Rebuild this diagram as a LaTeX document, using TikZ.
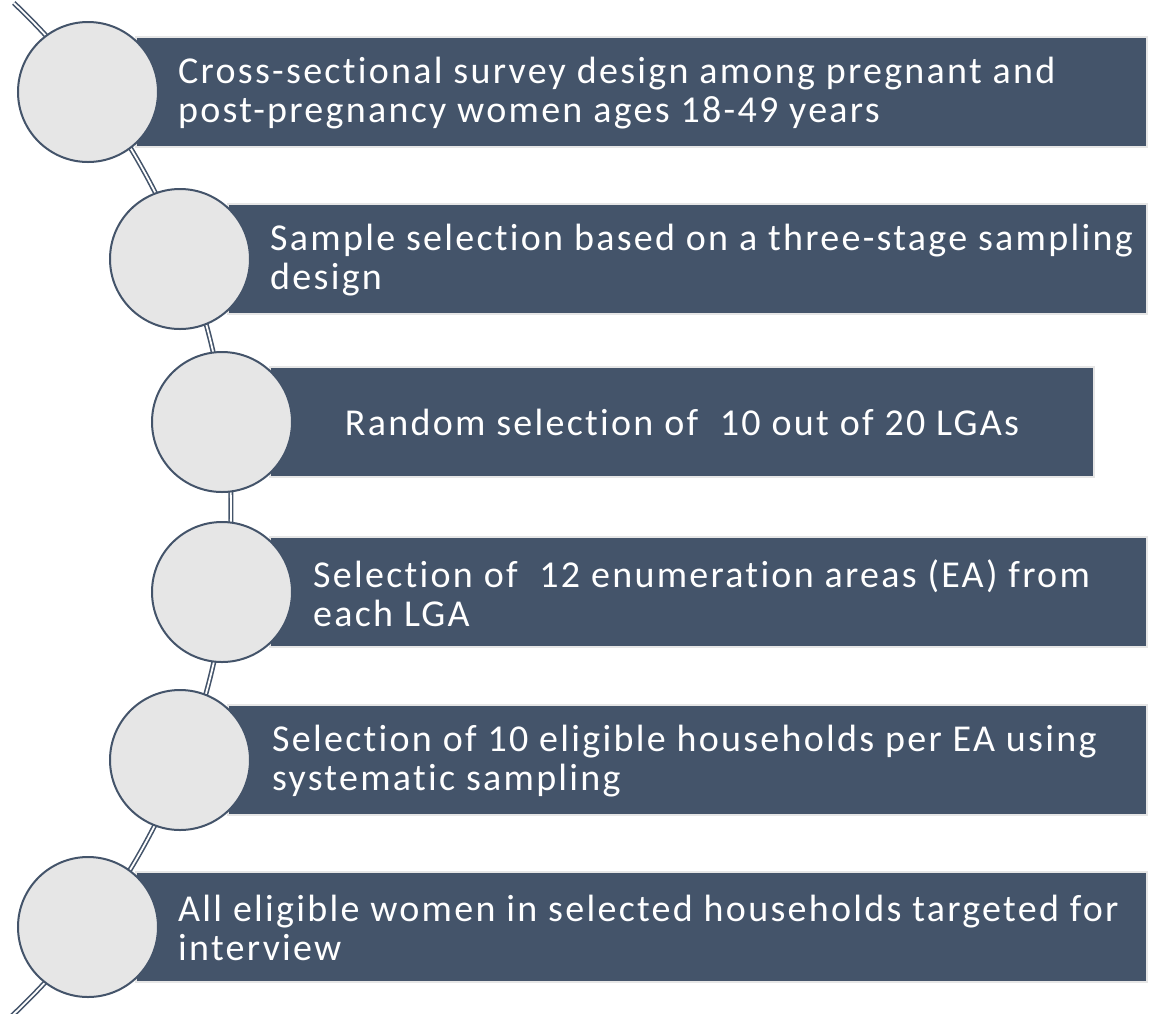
\documentclass[tikz,border=0pt]{standalone}
\usepackage{fontspec}
\setmainfont{Carlito}[Ligatures=NoCommon, LetterSpace=6]
\definecolor{slate}{HTML}{44546A}
\definecolor{mist}{HTML}{E6E6E6}
\tikzset{
  bar/.style={rectangle, fill=slate, draw=mist, line width=2pt, minimum height=110pt, inner sep=0pt, anchor=west},
  dot/.style={circle, fill=mist, draw=slate, line width=2pt, minimum size=140pt, inner sep=0pt},
  steptext/.style={text=white, font=\fontsize{38}{39}\selectfont, align=left, inner sep=0pt, anchor=west},
  spine/.style={draw=slate, line width=1.6pt, double=white, double distance=1.8pt}
}
\begin{document}
\begin{tikzpicture}[x=1pt, y=-1pt]
  \useasboundingbox (0,0) rectangle (1159,1013);
  \clip (0,0) rectangle (1159,1013);

  % curved spine behind the circles
  \path (-466,508.5) ++(-46.5:697) coordinate (spinetop);
  \draw[spine] (spinetop) arc[start angle=-46.5, end angle=48, radius=697];

  \foreach \i/\cx/\cy/\xe in {1/88/92/1146, 2/180/259/1146, 3/222/422/1093,
                              4/222/592/1146, 5/180/760/1146, 6/88/927/1146} {
    \pgfmathsetmacro\w{\xe-\cx-47}
    \node[bar, minimum width=\w pt] (bar\i) at (\cx+47,\cy) {};
    \node[dot] (c\i) at (\cx,\cy) {};
  }

  \node[steptext] (t1) at ([xshift=43pt, yshift=-1pt]bar1.west)
    {Cross-sectional survey design among pregnant and\\post-pregnancy women ages 18-49 years};
  \node[steptext] (t2) at ([xshift=43pt, yshift=-1pt]bar2.west)
    {Sample selection based on a three-stage sampling\\design};
  \node[steptext, anchor=center] (t3) at (bar3.center)
    {Random selection of~~10 out of 20 LGAs};
  \node[steptext] (t4) at ([xshift=44pt, yshift=-1pt]bar4.west)
    {Selection of~~12 enumeration areas (EA) from\\each LGA};
  \node[steptext] (t5) at ([xshift=45pt, yshift=-1pt]bar5.west)
    {Selection of 10 eligible households per EA using\\systematic sampling};
  \node[steptext] (t6) at ([xshift=43pt, yshift=-1pt]bar6.west)
    {All eligible women in selected households targeted for\\interview};
\end{tikzpicture}
\end{document}
